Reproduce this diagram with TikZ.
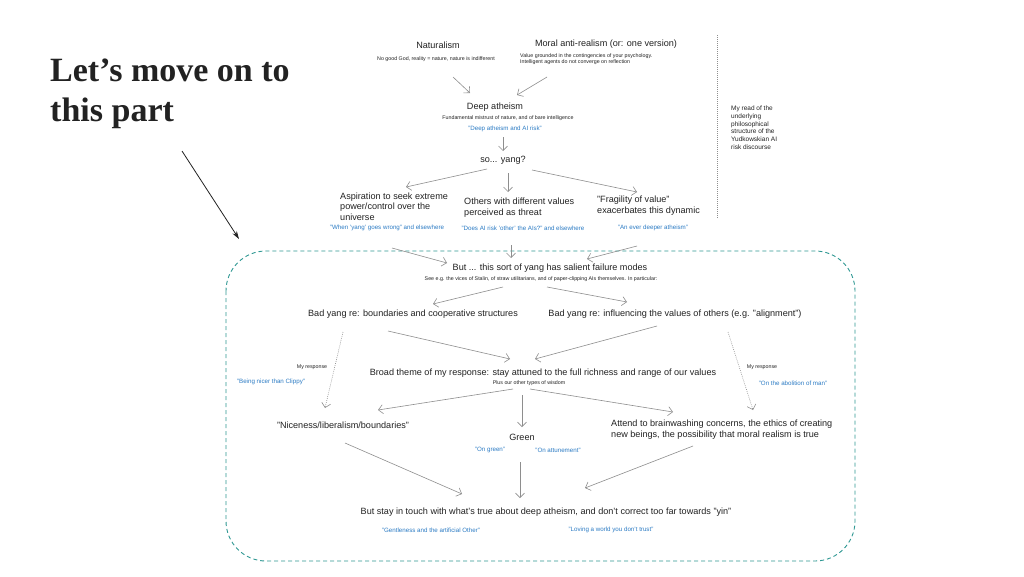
\documentclass[tikz,border=0pt]{standalone}
\usepackage{fontspec}
\setmainfont{Liberation Sans}
\newfontfamily\titlefont{Liberation Serif}
\usetikzlibrary{arrows.meta}

\definecolor{inkgray}{HTML}{222222}
\definecolor{arrowgray}{HTML}{8E8E8E}
\definecolor{linkblue}{HTML}{2B7BC4}
\definecolor{frameteal}{HTML}{2F9893}

\tikzstyle{claim}=[font=\fontsize{9.1}{10.5}\selectfont,text=inkgray,inner sep=0pt]
\tikzstyle{gloss}=[font=\fontsize{5.3}{6}\selectfont,text=inkgray,inner sep=0pt]
\tikzstyle{aside}=[font=\fontsize{6.5}{7.8}\selectfont,text=inkgray,inner sep=0pt]
\tikzstyle{essay}=[font=\fontsize{6.2}{7.5}\selectfont,text=linkblue,inner sep=0pt]
\tikzstyle{flow}=[draw=arrowgray,line width=0.6pt,-{Straight Barb[length=4.5pt,width=9pt]}]
\tikzstyle{response}=[flow,draw=arrowgray,dash pattern=on 0.8pt off 1.2pt]
\tikzstyle{partframe}=[draw=frameteal,line width=0.9pt,dash pattern=on 4pt off 3pt,rounded corners=40pt]

\begin{document}
\begin{tikzpicture}[x=1pt,y=-1pt]
\fill[white] (0,0) rectangle (1024,576);
\useasboundingbox (0,0) rectangle (1024,576);
% title
\node[font=\titlefont\bfseries\fontsize{34}{40}\selectfont,text=inkgray,
      anchor=base west,align=left,inner sep=0pt] (title) at (50,121.7)
    {Let’s move on to\\this part};
\coordinate (partcorner) at (239,239);
\draw[-{Stealth[length=8pt,width=5pt]},line width=0.8pt,inkgray]
    ([shift={(132,29.3)}]title.base west) -- (partcorner);
% the part we move on to
\draw[partframe] (226,251) rectangle (855,561);
% separator and side note
\draw[arrowgray,dash pattern=on 0.8pt off 1.2pt,line width=0.6pt] (717,35) -- (717,218);
\node[aside,anchor=north west,align=left] (readnote) at (731,105.5)
    {My read of the\\underlying\\philosophical\\structure of the\\Yudkowskian AI\\risk discourse};
% premises
\node[claim] (nat) at (438,45) {Naturalism};
\node[gloss] (natsub) at (436,59.5) {No good God, reality = nature, nature is indifferent};
\node[claim] (moral) at (606,44.5) {Moral anti-realism (or: one version)};
\node[gloss,anchor=west,align=left] (moralsub) at (520,58.7)
    {Value grounded in the contingencies of your psychology.\\Intelligent agents do not converge on reflection};
% deep atheism
\node[claim] (deep) at (495,107) {Deep atheism};
\node[gloss] (deepsub) at (508,118) {Fundamental mistrust of nature, and of bare intelligence};
\node[essay] (deepref) at (505,129) {"Deep atheism and AI risk"};
\node[claim] (yang) at (503,160) {so... yang?};
% consequences
\node[claim,anchor=west,align=left] (aspire) at (340,206.5)
    {Aspiration to seek extreme\\power/control over the\\universe};
\node[claim,anchor=west,align=left] (others) at (464,207.5)
    {Others with different values\\perceived as threat};
\node[claim,anchor=west,align=left] (fragile) at (597,205.5)
    {"Fragility of value"\\exacerbates this dynamic};
\node[essay] (aspireref) at (387,228) {"When 'yang' goes wrong" and elsewhere};
\node[essay] (othersref) at (523,228) {"Does AI risk 'other' the AIs?" and elsewhere};
\node[essay] (fragileref) at (653,228) {"An ever deeper atheism"};
% failure modes
\node[claim] (failure) at (550,268) {But ... this sort of yang has salient failure modes};
\node[gloss] (failuresub) at (541,279) {See e.g. the vices of Stalin, of straw utilitarians, and of paper-clipping AIs themselves. In particular:};
\node[claim] (badbound) at (413,314) {Bad yang re: boundaries and cooperative structures};
\node[claim] (badvalues) at (675,314) {Bad yang re: influencing the values of others (e.g. "alignment")};
% response
\node[claim] (broad) at (543,373) {Broad theme of my response: stay attuned to the full richness and range of our values};
\node[gloss] (broadsub) at (529,383) {Plus our other types of wisdom};
\node[gloss,font=\fontsize{5.3}{6}\selectfont] (resp1) at (312,367) {My response};
\node[essay] (nicer) at (271,382) {"Being nicer than Clippy"};
\node[gloss,font=\fontsize{5.3}{6}\selectfont] (resp2) at (762,367) {My response};
\node[essay] (abolition) at (793,383) {"On the abolition of man"};
\node[claim] (nice) at (343,425) {"Niceness/liberalism/boundaries"};
\node[claim] (green) at (522,437) {Green};
\node[essay] (ongreen) at (490,450) {"On green"};
\node[essay] (onattune) at (558,450) {"On attunement"};
\node[claim,anchor=west,align=left] (attend) at (611,429.5)
    {Attend to brainwashing concerns, the ethics of creating\\new beings, the possibility that moral realism is true};
\node[claim] (stay) at (546,512) {But stay in touch with what's true about deep atheism, and don't correct too far towards "yin"};
\node[essay] (gentle) at (431,530) {"Gentleness and the artificial Other"};
\node[essay] (loving) at (611,530) {"Loving a world you don't trust"};
% connectors
\draw[flow] ([shift={(17,17.5)}]natsub.center) -- ([shift={(-25,-14)}]deep.center);
\draw[flow] ([shift={(27,18.3)}]moralsub.west) -- ([shift={(22,-12)}]deep.center);
\draw[flow] ([shift={(-2,8)}]deepref.center) -- ([shift={(0,-9)}]yang.center);
\draw[flow] ([shift={(-16,9)}]yang.center) -- ([shift={(66,-19.5)}]aspire.west);
\draw[flow] ([shift={(5,13)}]yang.center) -- ([shift={(44,-15.5)}]others.west);
\draw[flow] ([shift={(29,10)}]yang.center) -- ([shift={(40,-13.5)}]fragile.west);
\draw[flow] ([shift={(5,20)}]aspireref.center) -- ([shift={(-103,-5)}]failure.center);
\draw[flow] ([shift={(-12,17)}]othersref.center) -- ([shift={(-39,-10)}]failure.center);
\draw[flow] ([shift={(-16,18)}]fragileref.center) -- ([shift={(37,-9)}]failure.center);
\draw[flow] ([shift={(-38,8)}]failuresub.center) -- ([shift={(20,-10)}]badbound.center);
\draw[flow] ([shift={(6,8)}]failuresub.center) -- ([shift={(-48,-12)}]badvalues.center);
\draw[flow] ([shift={(-25,17)}]badbound.center) -- ([shift={(-33,-14)}]broad.center);
\draw[flow] ([shift={(-18,12)}]badvalues.center) -- ([shift={(-8,-14)}]broad.center);
\draw[flow] ([shift={(-16,6)}]broadsub.center) -- ([shift={(35,-15)}]nice.center);
\draw[flow] ([shift={(-7,12)}]broadsub.center) -- ([shift={(0,-10)}]green.center);
\draw[flow] ([shift={(1,6)}]broadsub.center) -- ([shift={(62,-17.5)}]attend.west);
\draw[flow] ([shift={(2,18)}]nice.center) -- ([shift={(-84,-18)}]stay.center);
\draw[flow] ([shift={(-2,25)}]green.center) -- ([shift={(-26,-14)}]stay.center);
\draw[flow] ([shift={(82,16.5)}]attend.west) -- ([shift={(39,-24)}]stay.center);
\draw[response] ([shift={(-70,18)}]badbound.center) -- ([shift={(-18,-17)}]nice.center);
\draw[response] ([shift={(53,18)}]badvalues.center) -- ([shift={(142,-19.5)}]attend.west);
\end{tikzpicture}
\end{document}
